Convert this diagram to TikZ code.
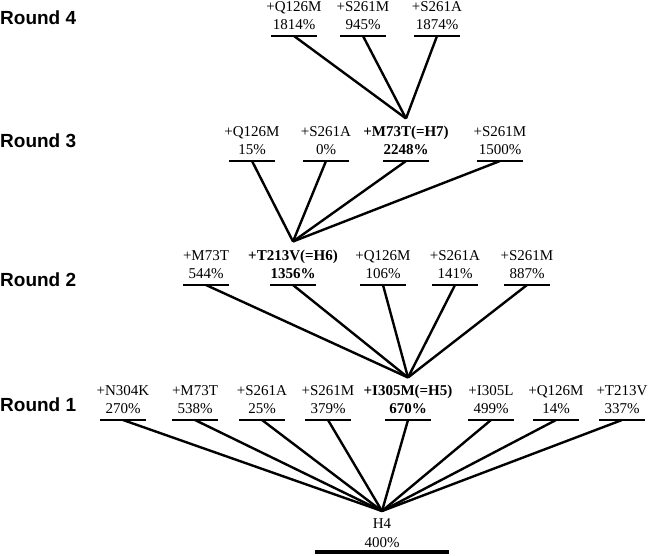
\documentclass[tikz,border=0pt]{standalone}
\usepackage{fontspec}
\setmainfont{Liberation Serif}
\newfontfamily\labelfont{Liberation Sans}
\begin{document}
\begin{tikzpicture}[x=1pt,y=-1pt,
  mut/.style={anchor=south, align=center, inner xsep=0pt, inner ysep=6pt, font=\fontsize{15}{18.5}\selectfont},
  hit/.style={mut, font=\fontsize{15}{18.5}\selectfont\bfseries},
  ubar/.style={line width=2.4pt},
  link/.style={line width=2.4pt},
  rootbar/.style={line width=4.5pt},
  roundlbl/.style={anchor=west, inner sep=0pt, font=\labelfont\bfseries\fontsize{19}{19}\selectfont}]
\useasboundingbox (0,0) rectangle (650,555);
% round labels
\node[roundlbl] (l4) at (0,18) {Round 4};
\node[roundlbl] (l3) at (0,141) {Round 3};
\node[roundlbl] (l2) at (0,280) {Round 2};
\node[roundlbl] (l1) at (0,405) {Round 1};
% round 4
\node[mut] (q4) at (294,36) {+Q126M\\1814\%};
\node[mut] (s4m) at (363,36) {+S261M\\945\%};
\node[mut] (s4a) at (437,36) {+S261A\\1874\%};
% round 3
\node[mut] (q3) at (252,161) {+Q126M\\15\%};
\node[mut] (a3) at (326,161) {+S261A\\0\%};
\node[hit] (h7) at (406,161) {+M73T(=H7)\\2248\%};
\node[mut] (m3) at (500,161) {+S261M\\1500\%};
% round 2
\node[mut] (m2) at (206,285) {+M73T\\544\%};
\node[hit] (h6) at (293,285) {+T213V(=H6)\\1356\%};
\node[mut] (q2) at (383,285) {+Q126M\\106\%};
\node[mut] (a2) at (455,285) {+S261A\\141\%};
\node[mut] (s2) at (527,285) {+S261M\\887\%};
% round 1
\node[mut] (n1) at (123,420) {+N304K\\270\%};
\node[mut] (m1) at (195,420) {+M73T\\538\%};
\node[mut] (a1) at (262,420) {+S261A\\25\%};
\node[mut] (s1) at (328,420) {+S261M\\379\%};
\node[hit] (h5) at (408,420) {+I305M(=H5)\\670\%};
\node[mut] (i1) at (491,420) {+I305L\\499\%};
\node[mut] (q1) at (556,420) {+Q126M\\14\%};
\node[mut] (t1) at (622,420) {+T213V\\337\%};
% root
\node[mut, inner ysep=1pt, font=\fontsize{15}{19.5}\selectfont] (h4) at (382,549) {H4\\400\%};
\draw[rootbar] ([xshift=-67pt,yshift=-3pt]h4.south) -- ([xshift=67pt,yshift=-3pt]h4.south);
% underlines
\foreach \n in {q4,s4m,s4a,q3,a3,h7,m3,m2,h6,q2,a2,s2,n1,m1,a1,s1,h5,i1,q1,t1}
  \draw[ubar] ([xshift=-23pt]\n.south) -- ([xshift=23pt]\n.south);
% connectors
\foreach \n in {q4,s4m,s4a} \draw[link] (\n.south) -- ([yshift=1pt]h7.north);
\foreach \n in {q3,a3,h7,m3} \draw[link] (\n.south) -- ([yshift=2pt]h6.north);
\foreach \n in {m2,h6,q2,a2,s2} \draw[link] (\n.south) -- ([yshift=1pt]h5.north);
\foreach \n in {n1,m1,a1,s1,h5,i1,q1,t1} \draw[link] (\n.south) -- ([yshift=6pt]h4.north);
\end{tikzpicture}
\end{document}
